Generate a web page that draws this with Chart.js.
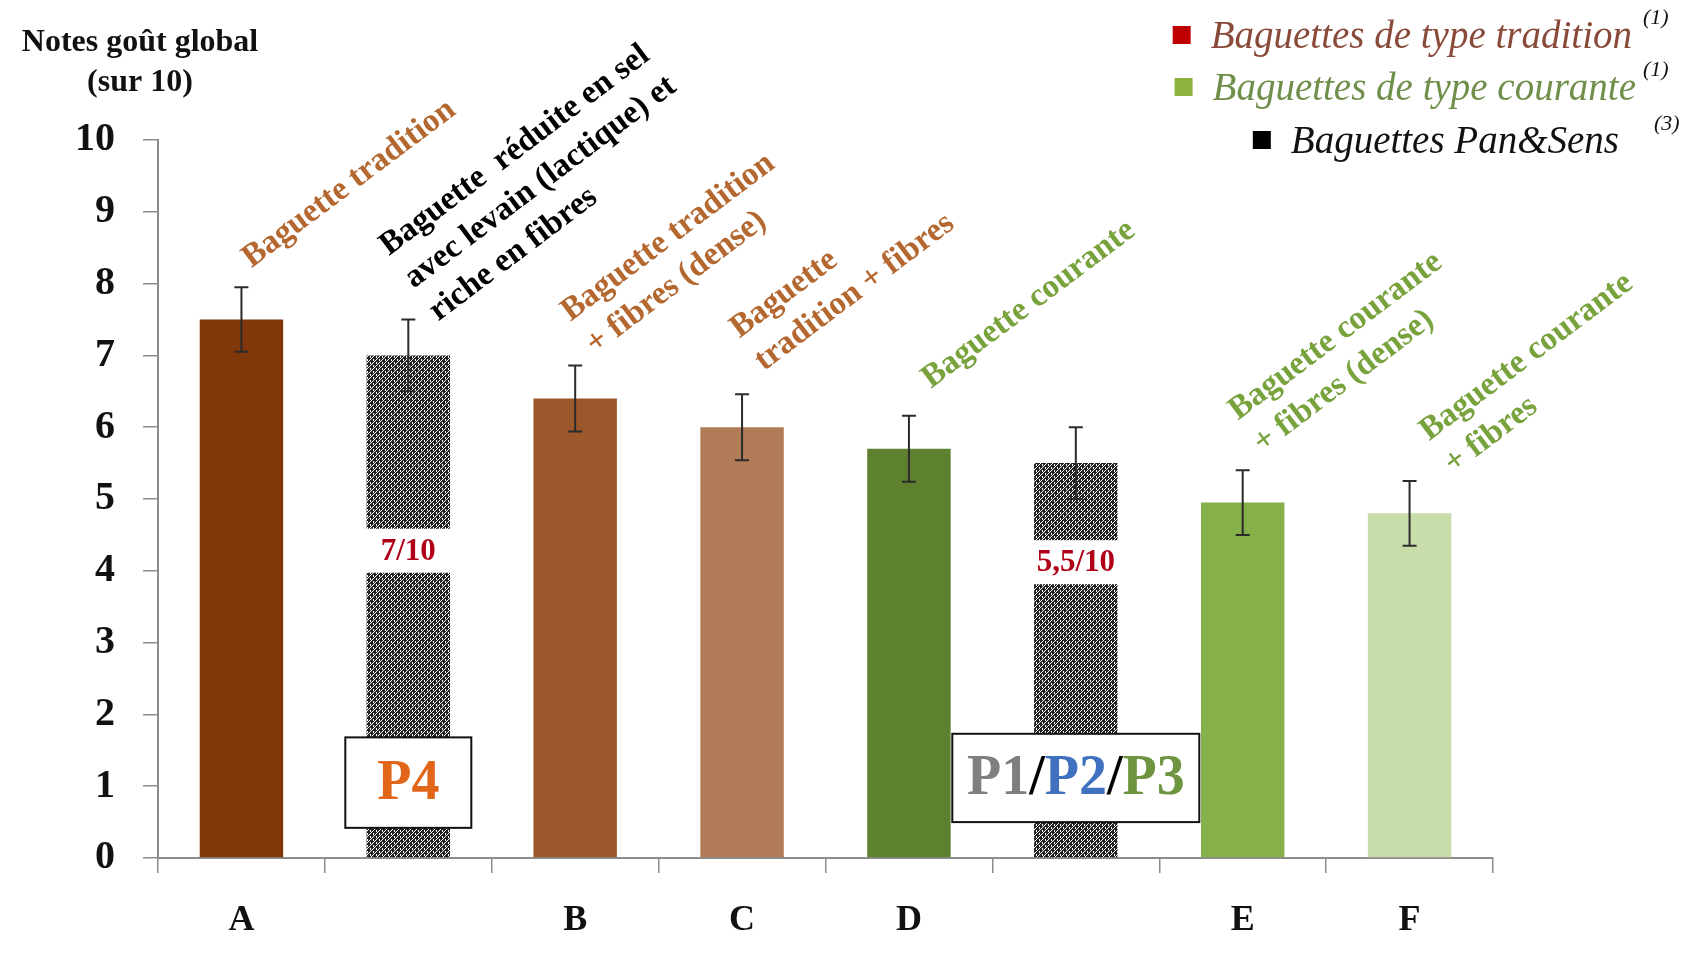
<!DOCTYPE html>
<html lang="fr">
<head>
<meta charset="utf-8">
<title>Notes goût global</title>
<script src="https://cdn.jsdelivr.net/npm/chart.js@4.4.0/dist/chart.umd.min.js"></script>
<style>
  html, body { margin: 0; padding: 0; background: #fff; }
  canvas { display: block; }
</style>
</head>
<body>
<canvas id="gout" width="1687" height="960"></canvas>
<script>
const categories = ['A', '', 'B', 'C', 'D', '', 'E', 'F'];
const scores = [7.5, 7, 6.4, 6.0, 5.7, 5.5, 4.95, 4.8];
const errors = [0.45, 0.5, 0.46, 0.46, 0.46, 0.5, 0.45, 0.45];
const yTicks = [0, 1, 2, 3, 4, 5, 6, 7, 8, 9, 10];
const barNames = [
  ['Baguette tradition'],
  ['Baguette  réduite en sel', 'avec levain (lactique) et', 'riche en fibres'],
  ['Baguette tradition', '+ fibres (dense)'],
  ['Baguette', 'tradition + fibres'],
  ['Baguette courante'],
  [],
  ['Baguette courante', '+ fibres (dense)'],
  ['Baguette courante', '+ fibres']
];
const scoreNotes = ['', '7/10', '', '', '', '5,5/10', '', ''];
const legendNames = ['Baguettes de type tradition', 'Baguettes de type courante', 'Baguettes Pan&Sens'];
const legendRefs = ['(1)', '(1)', '(3)'];

const SERIF = '"Liberation Serif", "Times New Roman", serif';
const BROWN_TXT = '#b4672f';
const GREEN_TXT = '#78a23c';

// small black/white weave used for the Pan&Sens bars
function weave() {
  const rows = [
    '#.#.##',
    '##.###',
    '#.##.#',
    '.###.#',
    '#####.',
    '#.##.#'
  ];
  const c = document.createElement('canvas');
  c.width = 6; c.height = 6;
  const g = c.getContext('2d');
  g.fillStyle = '#fff';
  g.fillRect(0, 0, 6, 6);
  g.fillStyle = '#222';
  rows.forEach((r, y) => {
    for (let x = 0; x < r.length; x++) {
      if (r[x] === '#') g.fillRect(x, y, 1, 1);
    }
  });
  return g.createPattern(c, 'repeat');
}

const canvas = document.getElementById('gout');
const pat = weave();

const annotate = {
  id: 'annotate',
  afterDatasetsDraw(chart, args, opts) {
    const ctx = chart.ctx;
    const ys = chart.scales.y;
    const bars = chart.getDatasetMeta(0).data;
    ctx.save();

    // score notes cut into the patterned bars
    bars.forEach((bar, i) => {
      if (!scoreNotes[i]) return;
      const y = ys.getPixelForValue(opts.noteLevels[i]);
      ctx.fillStyle = '#fff';
      ctx.fillRect(bar.x - bar.width / 2 - 2, y - 22, bar.width + 4, 44);
      ctx.fillStyle = '#b00018';
      ctx.font = 'bold 31px ' + SERIF;
      ctx.textAlign = 'center';
      ctx.textBaseline = 'middle';
      ctx.fillText(scoreNotes[i], bar.x, y + 1);
    });

    // error bars
    ctx.strokeStyle = '#2b2b2b';
    ctx.lineWidth = 2;
    bars.forEach((bar, i) => {
      const top = ys.getPixelForValue(scores[i] + errors[i]);
      const bot = ys.getPixelForValue(scores[i] - errors[i]);
      ctx.beginPath();
      ctx.moveTo(bar.x, top); ctx.lineTo(bar.x, bot);
      ctx.moveTo(bar.x - 7, top); ctx.lineTo(bar.x + 7, top);
      ctx.moveTo(bar.x - 7, bot); ctx.lineTo(bar.x + 7, bot);
      ctx.stroke();
    });

    // slanted product names above each bar
    ctx.font = 'bold 33px ' + SERIF;
    ctx.textAlign = 'left';
    ctx.textBaseline = 'alphabetic';
    bars.forEach((bar, i) => {
      const lines = barNames[i];
      if (!lines.length) return;
      const top = ys.getPixelForValue(scores[i] + errors[i]);
      const nudge = opts.nameNudge[i] || [0, 0];
      ctx.save();
      ctx.translate(bar.x + 16 + nudge[0], top - 17 + nudge[1]);
      ctx.rotate(-37 * Math.PI / 180);
      ctx.fillStyle = opts.nameColors[i];
      lines.forEach((t, j) => {
        ctx.fillText(t, 0, -(lines.length - 1 - j) * 41);
      });
      ctx.restore();
    });

    // framed producer tags
    opts.tags.forEach(tag => {
      const bar = bars[tag.index];
      const y1 = ys.getPixelForValue(tag.from);
      const y2 = ys.getPixelForValue(tag.to);
      const x1 = bar.x - tag.width / 2;
      ctx.fillStyle = '#fff';
      ctx.fillRect(x1, y1, tag.width, y2 - y1);
      ctx.strokeStyle = '#111';
      ctx.lineWidth = 2;
      ctx.strokeRect(x1, y1, tag.width, y2 - y1);
      ctx.font = 'bold 56px ' + SERIF;
      ctx.textBaseline = 'middle';
      ctx.textAlign = 'left';
      let w = 0;
      tag.parts.forEach(p => { w += ctx.measureText(p[0]).width; });
      let x = bar.x - w / 2;
      tag.parts.forEach(p => {
        ctx.fillStyle = p[1];
        ctx.fillText(p[0], x, (y1 + y2) / 2 + 2);
        x += ctx.measureText(p[0]).width;
      });
    });
    ctx.restore();
  },
  afterDraw(chart, args, opts) {
    const ctx = chart.ctx;
    ctx.save();

    // axis title, top left
    ctx.fillStyle = '#111';
    ctx.font = 'bold 32px ' + SERIF;
    ctx.textAlign = 'center';
    ctx.textBaseline = 'alphabetic';
    ctx.fillText('Notes goût global', 140, 51);
    ctx.fillText('(sur 10)', 140, 91);

    // legend, top right
    const ends = [1632, 1636, 1619];
    const bases = [48, 100, 153];
    const refX = [1643, 1643, 1654];
    const refY = [24, 76, 130];
    legendNames.forEach((name, k) => {
      ctx.font = 'italic 39px ' + SERIF;
      ctx.textAlign = 'right';
      ctx.fillStyle = opts.legendText[k];
      ctx.fillText(name, ends[k], bases[k]);
      const w = ctx.measureText(name).width;
      ctx.fillStyle = opts.legendBox[k];
      ctx.fillRect(ends[k] - w - 38, bases[k] - 22, 18, 18);
      ctx.font = 'italic 22px ' + SERIF;
      ctx.textAlign = 'left';
      ctx.fillStyle = '#111';
      ctx.fillText(legendRefs[k], refX[k], refY[k]);
    });
    ctx.restore();
  }
};

new Chart(canvas, {
  type: 'bar',
  data: {
    labels: categories,
    datasets: [
      {
        data: scores,
        backgroundColor: ['#80380a', pat, '#9c572b', '#b07b56', '#5e8130', pat, '#86b049', '#c9ddab'],
        barPercentage: 1,
        categoryPercentage: 0.5,
      },
    ]
  },
  options: {
    responsive: false,
    animation: false,
    layout: {
      padding: { top: 140, right: 194, left: 0, bottom: 0 }
    },
    scales: {
      x: {
        grid: {
          offset: true,
          drawOnChartArea: false,
          tickLength: 15,
          color: '#8c8c8c',
          lineWidth: 1.5,
        },
        border: { color: '#8c8c8c', width: 2 },
        ticks: {
          color: '#111',
          padding: 26,
          maxRotation: 0,
          autoSkip: false,
          font: { family: SERIF, size: 36, weight: 'bold' },
        },
        afterFit: s => { s.height = 102; },
      },
      y: {
        min: 0,
        max: 10,
        afterBuildTicks: s => { s.ticks = yTicks.map(v => ({ value: v })); },
        grid: {
          drawOnChartArea: false,
          tickLength: 15,
          color: '#8c8c8c',
          lineWidth: 1.5,
        },
        border: { color: '#8c8c8c', width: 2 },
        ticks: {
          color: '#111',
          padding: 28,
          font: { family: SERIF, size: 40, weight: 'bold' },
        },
        afterFit: s => { s.width = 158; },
      },
    },
    plugins: {
      legend: { display: false },
      tooltip: { enabled: false },
      annotate: {
        noteLevels: { 1: 4.28, 5: 4.12 },
        nameColors: [BROWN_TXT, '#000', BROWN_TXT, BROWN_TXT, GREEN_TXT, '#000', GREEN_TXT, GREEN_TXT],
        nameNudge: [[-6, -2], [14, 19], [4, 6], [6, -6], [6, -10], null, [4, 0], [28, 10]],
        tags: [
          { index: 1, width: 126, from: 1.68, to: 0.42, parts: [['P4', '#e2661a']] },
          { index: 5, width: 247, from: 1.73, to: 0.5,
            parts: [['P1', '#7f7f7f'], ['/', '#000'], ['P2', '#3f71bf'], ['/', '#000'], ['P3', '#6e9440']] },
        ],
        legendText: ['#8a4a3a', '#6f8f4a', '#111'],
        legendBox: ['#c00000', '#8db43f', '#000'],
      },
    },
  },
  plugins: [annotate]
});
</script>
</body>
</html>
